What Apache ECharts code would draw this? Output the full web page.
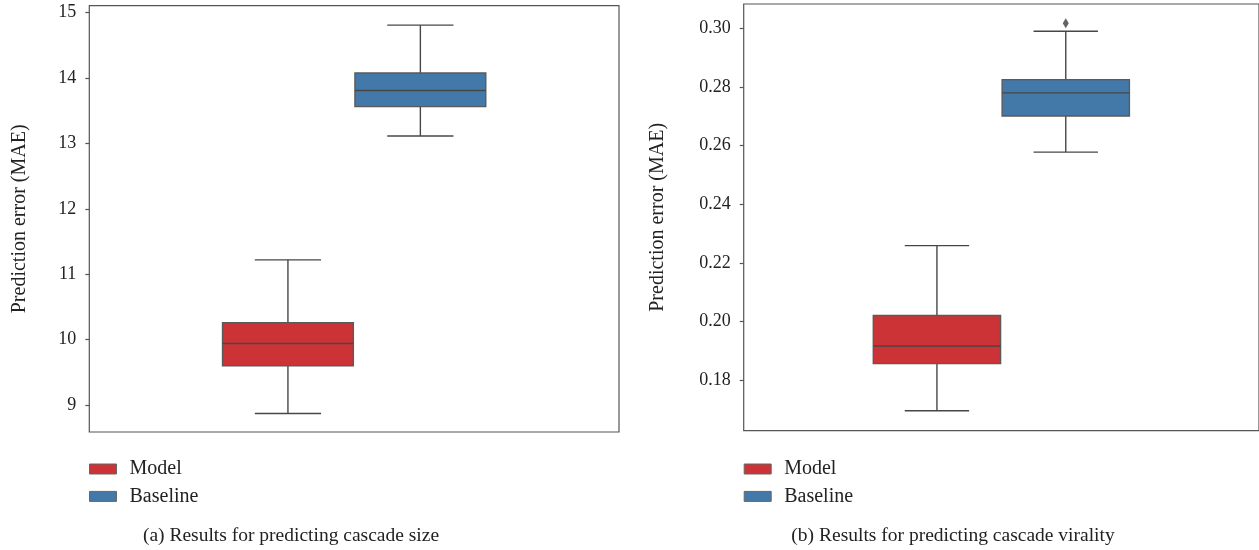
<!DOCTYPE html>
<html>
<head>
<meta charset="utf-8">
<title>Cascade prediction error</title>
<script src="https://cdn.jsdelivr.net/npm/echarts@6/dist/echarts.min.js"></script>
<style>
  html, body { margin: 0; padding: 0; background: #ffffff; }
  #chart { width: 1259px; height: 550px; }
</style>
</head>
<body>
<div id="chart"></div>
<script>
// Groups shown in each panel
const groups = ['Model', 'Baseline'];

// Box statistics per group: [lower whisker, Q1, median, Q3, upper whisker]
const sizeModel    = [8.87, 9.60, 9.94, 10.26, 11.22];
const sizeBaseline = [13.115, 13.563, 13.81, 14.078, 14.81];
const viralModel    = [0.1696, 0.1857, 0.1917, 0.2021, 0.2259];
const viralBaseline = [0.2578, 0.2701, 0.2780, 0.2825, 0.2990];

// Points beyond the whiskers (Baseline, virality)
const viralBaselineOutliers = [0.3017];

// Y axis ranges and tick labels
const sizeRange  = [8.587, 15.107];
const viralRange = [0.16282, 0.30829];
const sizeTicks  = [9, 10, 11, 12, 13, 14, 15];
const viralTicks = [0.18, 0.20, 0.22, 0.24, 0.26, 0.28, 0.30];

// Panel captions and axis title
const captions = ['(a) Results for predicting cascade size', '(b) Results for predicting cascade virality'];
const yTitle = 'Prediction error (MAE)';

const COLORS = { Model: '#cc3336', Baseline: '#4379a9' };
const LINE = '#474747';
const FONT = 'Liberation Serif';
const BOX_W = 0.494;   // box width in x-axis units
const CAP_W = 0.25;    // whisker cap width in x-axis units

// x position of each group on the hidden value axis
const groupX = i => (i - 0.5) * 0.5;

function renderBox(params, api) {
  const x = api.value(0);
  const lo = api.coord([x, api.value(1)]);
  const q1 = api.coord([x, api.value(2)]);
  const md = api.coord([x, api.value(3)]);
  const q3 = api.coord([x, api.value(4)]);
  const hi = api.coord([x, api.value(5)]);
  const w = api.size([BOX_W, 0])[0];
  const cw = api.size([CAP_W, 0])[0];
  const cx = lo[0];
  const fill = api.visual('color');
  const lineStyle = { stroke: LINE, lineWidth: 1.4 };
  return {
    type: 'group',
    children: [
      { type: 'line', shape: { x1: cx, y1: q1[1], x2: cx, y2: lo[1] }, style: lineStyle },
      { type: 'line', shape: { x1: cx, y1: q3[1], x2: cx, y2: hi[1] }, style: lineStyle },
      { type: 'line', shape: { x1: cx - cw / 2, y1: lo[1], x2: cx + cw / 2, y2: lo[1] }, style: lineStyle },
      { type: 'line', shape: { x1: cx - cw / 2, y1: hi[1], x2: cx + cw / 2, y2: hi[1] }, style: lineStyle },
      { type: 'rect', shape: { x: cx - w / 2, y: q3[1], width: w, height: q1[1] - q3[1] },
        style: { fill: fill, stroke: '#5a5a5a', lineWidth: 1.4 } },
      { type: 'line', shape: { x1: cx - w / 2, y1: md[1], x2: cx + w / 2, y2: md[1] }, style: lineStyle }
    ]
  };
}

function boxSeries(name, stats, gridIdx) {
  const i = groups.indexOf(name);
  return {
    name: name,
    type: 'custom',
    xAxisIndex: gridIdx,
    yAxisIndex: gridIdx,
    itemStyle: { color: COLORS[name] },
    renderItem: renderBox,
    encode: { x: 0, y: [1, 2, 3, 4, 5] },
    data: [[groupX(i)].concat(stats)],
    z: 3
  };
}

function yAxis(gridIdx, range, ticks, nameGap) {
  return {
    type: 'value',
    gridIndex: gridIdx,
    min: range[0],
    max: range[1],
    name: yTitle,
    nameLocation: 'middle',
    nameRotate: 90,
    nameGap: nameGap,
    nameTextStyle: { fontFamily: FONT, fontSize: 20, color: '#222' },
    axisLine: { show: false, onZero: false },
    axisTick: { show: true, length: 4, customValues: ticks, lineStyle: { color: '#555', width: 1.2 } },
    axisLabel: {
      customValues: ticks,
      margin: 13,
      fontFamily: FONT,
      fontSize: 18,
      color: '#222',
      formatter: v => gridIdx === 0 ? String(v) : v.toFixed(2)
    },
    splitLine: { show: false }
  };
}

function legend(left) {
  return {
    left: left,
    top: 459,
    padding: 0,
    orient: 'vertical',
    data: groups,
    icon: 'rect',
    itemWidth: 27,
    itemHeight: 10,
    itemGap: 7.4,
    itemStyle: { borderColor: '#666', borderWidth: 1 },
    selectedMode: false,
    textStyle: { fontFamily: FONT, fontSize: 20, color: '#222', lineHeight: 20, padding: [0, 0, 0, 8] }
  };
}

function caption(text, centerX) {
  return {
    text: text, left: centerX, top: 526, padding: 0, textAlign: 'center',
    textStyle: { fontFamily: FONT, fontSize: 19.5, fontWeight: 'normal', color: '#222' }
  };
}

const chart = echarts.init(document.getElementById('chart'), null, { renderer: 'canvas' });
chart.setOption({
  animation: false,
  backgroundColor: '#ffffff',
  grid: [
    { left: 89.3, top: 5.7, right: 640, bottom: 118, show: true, borderColor: '#555', borderWidth: 1.2, backgroundColor: 'transparent' },
    { left: 743.7, top: 4, right: -1, bottom: 119.3, show: true, borderColor: '#555', borderWidth: 1.2, backgroundColor: 'transparent' }
  ],
  xAxis: [
    { type: 'value', gridIndex: 0, min: -1, max: 1, show: false },
    { type: 'value', gridIndex: 1, min: -1, max: 1, show: false }
  ],
  yAxis: [
    yAxis(0, sizeRange, sizeTicks, 60),
    yAxis(1, viralRange, viralTicks, 76)
  ],
  legend: [legend(89), legend(743.7)],
  title: [caption(captions[0], 291), caption(captions[1], 953)],
  series: [
    boxSeries('Model', sizeModel, 0),
    boxSeries('Baseline', sizeBaseline, 0),
    boxSeries('Model', viralModel, 1),
    boxSeries('Baseline', viralBaseline, 1),
    {
      type: 'scatter',
      xAxisIndex: 1,
      yAxisIndex: 1,
      symbol: 'diamond',
      symbolSize: [6, 10],
      itemStyle: { color: '#3d3d3d' },
      data: viralBaselineOutliers.map(v => [groupX(1), v]),
      z: 4
    }
  ]
});
</script>
</body>
</html>
